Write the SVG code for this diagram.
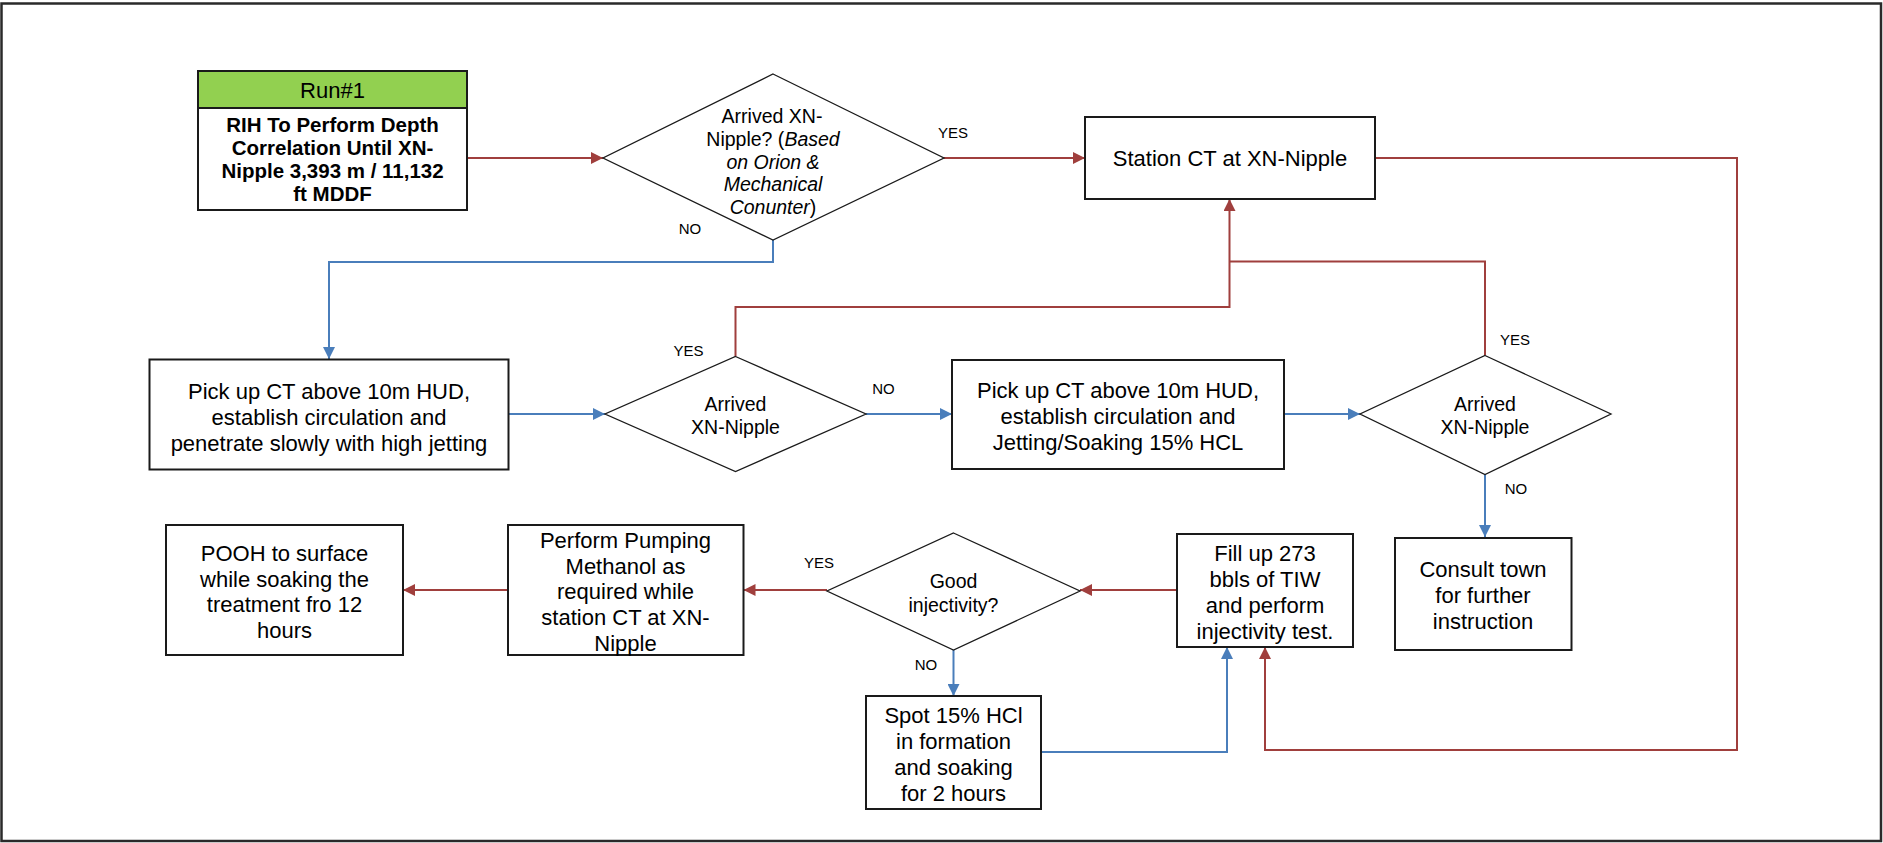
<svg xmlns="http://www.w3.org/2000/svg" width="1883" height="843" viewBox="0 0 1883 843">
  <style>
    .box { fill: #ffffff; stroke: #1a1a1a; stroke-width: 2; }
    .dia { fill: #ffffff; stroke: #1a1a1a; stroke-width: 1.3; }
    .t { font-family: "Liberation Sans", Arial, sans-serif; font-size: 22px; fill: #000; text-anchor: middle; }
    .td { font-family: "Liberation Sans", Arial, sans-serif; font-size: 19.5px; fill: #000; text-anchor: middle; }
    .tb { font-family: "Liberation Sans", Arial, sans-serif; font-size: 20.5px; font-weight: bold; fill: #000; text-anchor: middle; }
    .lbl { font-family: "Liberation Sans", Arial, sans-serif; font-size: 15px; fill: #000; text-anchor: middle; }
    .i { font-style: italic; }
    .red { fill: none; stroke: #A03F3D; stroke-width: 2; }
    .blue { fill: none; stroke: #4A7EBB; stroke-width: 2; }
  </style>
  <defs>
    <marker id="arrRed" markerUnits="userSpaceOnUse" markerWidth="13" markerHeight="12" refX="12" refY="6" orient="auto">
      <path d="M0,0 L12,6 L0,12 z" fill="#A03F3D"/>
    </marker>
    <marker id="arrBlue" markerUnits="userSpaceOnUse" markerWidth="13" markerHeight="12" refX="12" refY="6" orient="auto">
      <path d="M0,0 L12,6 L0,12 z" fill="#4A7EBB"/>
    </marker>
  </defs>

  <!-- page frame -->
  <rect x="1.5" y="3.5" width="1879.5" height="837.5" fill="#ffffff" stroke="#2a2a2a" stroke-width="2.5"/>

  <!-- connectors -->
  <g id="connectors">
    <path class="red" d="M467,158 L603,158" marker-end="url(#arrRed)"/>
    <path class="red" d="M944,158 L1085,158" marker-end="url(#arrRed)"/>
    <path class="red" d="M1375,158 L1737,158 L1737,750 L1265,750 L1265,647" marker-end="url(#arrRed)"/>
    <path class="blue" d="M773,240 L773,262 L329,262 L329,359" marker-end="url(#arrBlue)"/>
    <path class="blue" d="M508.5,414 L605,414" marker-end="url(#arrBlue)"/>
    <path class="red" d="M735.5,356.5 L735.5,307 L1229.5,307 L1229.5,199" marker-end="url(#arrRed)"/>
    <path class="red" d="M1485,355.5 L1485,261.5 L1229.5,261.5"/>
    <path class="blue" d="M866,414 L952,414" marker-end="url(#arrBlue)"/>
    <path class="blue" d="M1284,414 L1360,414" marker-end="url(#arrBlue)"/>
    <path class="blue" d="M1485,474.5 L1485,537" marker-end="url(#arrBlue)"/>
    <path class="red" d="M1177,590 L1080,590" marker-end="url(#arrRed)"/>
    <path class="red" d="M827,590 L743.5,590" marker-end="url(#arrRed)"/>
    <path class="red" d="M508,590 L403,590" marker-end="url(#arrRed)"/>
    <path class="blue" d="M953.5,650 L953.5,696" marker-end="url(#arrBlue)"/>
    <path class="blue" d="M1041,752 L1227,752 L1227,647" marker-end="url(#arrBlue)"/>

    <text class="lbl" x="953" y="138">YES</text>
    <text class="lbl" x="690" y="234">NO</text>
    <text class="lbl" x="688.5" y="356">YES</text>
    <text class="lbl" x="883.5" y="394">NO</text>
    <text class="lbl" x="1515" y="345">YES</text>
    <text class="lbl" x="1516" y="494">NO</text>
    <text class="lbl" x="819" y="568">YES</text>
    <text class="lbl" x="926" y="670">NO</text>
  </g>

  <!-- Run #1 start box -->
  <g id="run1">
    <rect class="box" x="198" y="71" width="269" height="139"/>
    <rect x="198" y="71" width="269" height="37" fill="#92D050" stroke="#1a1a1a" stroke-width="2"/>
    <text class="t" x="332.5" y="97.5">Run#1</text>
    <text class="tb" x="332.5" y="132">RIH To Perform Depth</text>
    <text class="tb" x="332.5" y="155">Correlation Until XN-</text>
    <text class="tb" x="332.5" y="178">Nipple 3,393  m / 11,132</text>
    <text class="tb" x="332.5" y="201">ft MDDF</text>
  </g>

  <!-- decision: arrived at XN-Nipple (first check) -->
  <g id="decision1">
    <polygon class="dia" points="773,74 944,158 773,240 603,158"/>
    <text class="td" x="772" y="123">Arrived  XN-</text>
    <text class="td" x="773" y="146">Nipple? (<tspan class="i">Based</tspan></text>
    <text class="td i" x="773" y="168.5">on Orion &amp;</text>
    <text class="td i" x="773" y="191">Mechanical</text>
    <text class="td" x="773" y="214"><tspan class="i">Conunter</tspan>)</text>
  </g>

  <!-- station CT -->
  <g id="station">
    <rect class="box" x="1085" y="117" width="290" height="82"/>
    <text class="t" x="1230" y="166">Station CT at XN-Nipple</text>
  </g>

  <!-- high jetting -->
  <g id="jetting">
    <rect class="box" x="149.5" y="359.5" width="359" height="110"/>
    <text class="t" x="329" y="398.5">Pick up CT above 10m HUD,</text>
    <text class="t" x="329" y="424.5">establish circulation and</text>
    <text class="t" x="329" y="450.5">penetrate slowly with high jetting</text>
  </g>

  <!-- decision 2 -->
  <g id="decision2">
    <polygon class="dia" points="735.5,356.5 866,414 735.5,471.5 605,414"/>
    <text class="td" x="735.5" y="411">Arrived</text>
    <text class="td" x="735.5" y="434">XN-Nipple</text>
  </g>

  <!-- HCL soaking -->
  <g id="soakHCL">
    <rect class="box" x="952" y="360" width="332" height="109"/>
    <text class="t" x="1118" y="398">Pick up CT above 10m HUD,</text>
    <text class="t" x="1118" y="424">establish circulation and</text>
    <text class="t" x="1118" y="450">Jetting/Soaking  15% HCL</text>
  </g>

  <!-- decision 3 -->
  <g id="decision3">
    <polygon class="dia" points="1485,355.5 1611,414 1485,474.5 1360,414"/>
    <text class="td" x="1485" y="411">Arrived</text>
    <text class="td" x="1485" y="434">XN-Nipple</text>
  </g>

  <!-- consult town -->
  <g id="consult">
    <rect class="box" x="1395" y="538" width="176.5" height="112"/>
    <text class="t" x="1483" y="576.5">Consult town</text>
    <text class="t" x="1483" y="602.5">for further</text>
    <text class="t" x="1483" y="628.5">instruction</text>
  </g>

  <!-- injectivity test -->
  <g id="filltest">
    <rect class="box" x="1177" y="534" width="176" height="113"/>
    <text class="t" x="1265" y="561">Fill up 273</text>
    <text class="t" x="1265" y="587">bbls of TIW</text>
    <text class="t" x="1265" y="613">and perform</text>
    <text class="t" x="1265" y="639">injectivity  test.</text>
  </g>

  <!-- decision 4 -->
  <g id="decision4">
    <polygon class="dia" points="953.5,533 1080,591 953.5,650 827,591"/>
    <text class="td" x="953.5" y="588">Good</text>
    <text class="td" x="953.5" y="612">injectivity?</text>
  </g>

  <!-- methanol pumping -->
  <g id="methanol">
    <rect class="box" x="508" y="525" width="235.5" height="130"/>
    <text class="t" x="625.5" y="548">Perform Pumping</text>
    <text class="t" x="625.5" y="574">Methanol  as</text>
    <text class="t" x="625.5" y="599">required while</text>
    <text class="t" x="625.5" y="625">station CT at XN-</text>
    <text class="t" x="625.5" y="651">Nipple</text>
  </g>

  <!-- pull out of hole -->
  <g id="pooh">
    <rect class="box" x="166" y="525" width="237" height="130"/>
    <text class="t" x="284.5" y="561">POOH to surface</text>
    <text class="t" x="284.5" y="587">while soaking the</text>
    <text class="t" x="284.5" y="612">treatment fro 12</text>
    <text class="t" x="284.5" y="638">hours</text>
  </g>

  <!-- spot acid -->
  <g id="spot">
    <rect class="box" x="866" y="696" width="175" height="113"/>
    <text class="t" x="953.5" y="723">Spot 15% HCl</text>
    <text class="t" x="953.5" y="749">in formation</text>
    <text class="t" x="953.5" y="775">and soaking</text>
    <text class="t" x="953.5" y="801">for 2 hours</text>
  </g>
</svg>
